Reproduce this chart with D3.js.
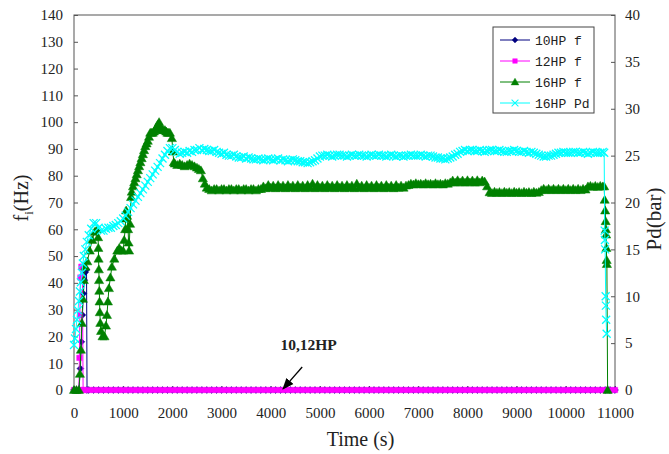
<!DOCTYPE html>
<html lang="en">
<head>
<meta charset="utf-8">
<title>Compressor frequency and discharge pressure</title>
<script src="https://cdnjs.cloudflare.com/ajax/libs/d3/7.8.5/d3.min.js"></script>
<style>
  body { margin: 0; background: #fff; }
  svg text { font-family: "Liberation Serif", serif; fill: #222; }
</style>
</head>
<body>
<div id="chart"></div>
<script>
// each series is [time (s), value]
const hp10f = [[0,0],[50,0],[100,0],[130,8],[150,18],[170,28],[190,36],[210,41],[230,44],[255,45],[265,0],
  [300,0],[400,0],[500,0],[600,0],[700,0],[800,0],[900,0],[1000,0],[1100,0],[1200,0],[1300,0],[1400,0],[1500,0],
  [1600,0],[1700,0],[1800,0],[1900,0],[2000,0],[2100,0],[2200,0],[2300,0],[2400,0],[2500,0],[2600,0],[2700,0],
  [2800,0],[2900,0],[3000,0],[3100,0],[3200,0],[3300,0],[3400,0],[3500,0],[3600,0],[3700,0],[3800,0],[3900,0],
  [4000,0],[4100,0],[4200,0],[4300,0],[4400,0],[4500,0],[4600,0],[4700,0],[4800,0],[4900,0],[5000,0],[5100,0],
  [5200,0],[5300,0],[5400,0],[5500,0],[5600,0],[5700,0],[5800,0],[5900,0],[6000,0],[6100,0],[6200,0],[6300,0],
  [6400,0],[6500,0],[6600,0],[6700,0],[6800,0],[6900,0],[7000,0],[7100,0],[7200,0],[7300,0],[7400,0],[7500,0],
  [7600,0],[7700,0],[7800,0],[7900,0],[8000,0],[8100,0],[8200,0],[8300,0],[8400,0],[8500,0],[8600,0],[8700,0],
  [8800,0],[8900,0],[9000,0],[9100,0],[9200,0],[9300,0],[9400,0],[9500,0],[9600,0],[9700,0],[9800,0],[9900,0],
  [10000,0],[10100,0],[10200,0],[10300,0],[10400,0],[10500,0],[10600,0],[10700,0],[10800,0],[10900,0],[11000,0]];

const hp12f = [[0,0],[50,0],[100,0],[110,12],[120,28],[130,42],[150,46],[170,46],[185,0],
  [200,0],[300,0],[400,0],[500,0],[600,0],[700,0],[800,0],[900,0],[1000,0],[1100,0],[1200,0],[1300,0],[1400,0],[1500,0],
  [1600,0],[1700,0],[1800,0],[1900,0],[2000,0],[2100,0],[2200,0],[2300,0],[2400,0],[2500,0],[2600,0],[2700,0],
  [2800,0],[2900,0],[3000,0],[3100,0],[3200,0],[3300,0],[3400,0],[3500,0],[3600,0],[3700,0],[3800,0],[3900,0],
  [4000,0],[4100,0],[4200,0],[4300,0],[4400,0],[4500,0],[4600,0],[4700,0],[4800,0],[4900,0],[5000,0],[5100,0],
  [5200,0],[5300,0],[5400,0],[5500,0],[5600,0],[5700,0],[5800,0],[5900,0],[6000,0],[6100,0],[6200,0],[6300,0],
  [6400,0],[6500,0],[6600,0],[6700,0],[6800,0],[6900,0],[7000,0],[7100,0],[7200,0],[7300,0],[7400,0],[7500,0],
  [7600,0],[7700,0],[7800,0],[7900,0],[8000,0],[8100,0],[8200,0],[8300,0],[8400,0],[8500,0],[8600,0],[8700,0],
  [8800,0],[8900,0],[9000,0],[9100,0],[9200,0],[9300,0],[9400,0],[9500,0],[9600,0],[9700,0],[9800,0],[9900,0],
  [10000,0],[10100,0],[10200,0],[10300,0],[10400,0],[10500,0],[10600,0],[10700,0],[10800,0],[10900,0],[11000,0]];

const hp16f = [[0,0],[50,0],[100,0],[120,6],[140,15],[160,25],[180,34],[200,41],[230,46],[270,48],[320,52],
  [370,56],[420,59],[470,60],[490,57],[495,53],[500,49],[505,45],[510,41],[515,37],[520,33],[525,29],[535,25],
  [550,22],[580,20],[620,20],[650,24],[670,28],[690,33],[710,38],[740,42],[770,46],[820,49],[880,52],[920,53],
  [960,52],[1000,52],[1020,56],[1040,60],[1050,64],[1060,67],[1080,65],[1100,60],[1110,55],[1120,52],[1140,62],
  [1160,72],[1175,74],[1200,76],[1225,77.5],[1250,79],[1275,80.5],[1300,82],[1325,83.5],[1350,85],[1375,86.5],
  [1400,88],[1425,89.5],[1450,91],[1475,92],[1500,93],[1525,94.5],[1550,96],[1575,96],[1600,96],[1625,96.5],
  [1650,97],[1675,98],[1700,99],[1730,100],[1760,98],[1780,97.5],[1800,97],[1825,97],[1850,97],[1875,96.5],
  [1900,96],[1925,96],[1950,96],[1990,94],[2010,89],[2030,85],
  [2050,84.5],[2100,84],[2150,84.5],[2200,84],[2250,83.5],[2300,84],[2350,84.5],[2400,84],[2450,83.5],[2500,83],
  [2540,82.5],[2580,82],[2620,79],[2660,77],[2700,75.5],[2750,75],[2800,74.5],[2850,75],[2900,75],[2950,74.5],
  [3000,75],[3050,75],[3100,74.5],[3150,75],[3200,75],[3250,74.5],[3300,75],[3350,75],[3400,74.5],[3450,75],
  [3500,75],[3550,74.5],[3600,75],[3650,75],[3700,74.5],[3750,75],[3800,75],
  [3850,76],[3900,75.3],[3950,76.5],[4000,75.5],[4050,76.3],[4100,75.3],[4150,76.5],[4200,75.5],[4250,76.3],
  [4300,75.3],[4350,76.5],[4400,75.5],[4450,76.3],[4500,75.3],[4550,76.5],[4600,75.5],[4650,76.3],[4700,75.3],
  [4750,76.5],[4800,75.5],[4850,77],[4900,75.3],[4950,76.5],[5000,75.5],[5050,76.3],[5100,75.3],[5150,76.5],
  [5200,75.5],[5250,76.3],[5300,75.3],[5350,76.5],[5400,75.5],[5450,76.3],[5500,75.3],[5550,76.5],[5600,75.5],
  [5650,76.3],[5700,75.3],[5750,77],[5800,75.5],[5850,76.3],[5900,75.3],[5950,76.5],[6000,75.5],[6050,76.3],
  [6100,75.3],[6150,76.5],[6200,75.5],[6250,76.3],[6300,75.3],[6350,76.5],[6400,75.5],[6450,76.3],[6500,75.3],
  [6550,76.5],[6600,75.5],[6650,76.3],[6700,75.5],[6750,76.3],[6800,76.5],
  [6850,77],[6900,76.7],[6950,77.2],[7000,76.8],[7050,77],[7100,76.7],[7150,77.2],[7200,76.8],[7250,77],
  [7300,76.7],[7350,77.2],[7400,76.8],[7450,77],[7500,76.7],[7550,77.2],[7600,77],
  [7650,77.5],[7700,78.2],[7750,77.4],[7800,78.3],[7850,77.5],[7900,78.2],[7950,77.4],[8000,78.3],[8050,77.5],
  [8100,78.2],[8150,77.4],[8200,78.3],[8250,77.5],[8300,78.2],[8350,77.8],[8400,76],
  [8450,73.8],[8500,73.5],[8550,74],[8600,73.6],[8650,73.9],[8700,73.5],[8750,74],[8800,73.6],[8850,73.9],
  [8900,73.5],[8950,74],[9000,73.6],[9050,73.9],[9100,73.5],[9150,74],[9200,73.6],[9250,73.9],[9300,73.5],
  [9350,74],[9400,73.6],[9450,73.9],
  [9500,74.6],[9550,75.1],[9600,74.6],[9650,75.1],[9700,74.6],[9750,75.1],[9800,74.6],[9850,75.1],[9900,74.6],
  [9950,75.1],[10000,74.6],[10050,75.1],[10100,74.6],[10150,75.1],[10200,74.6],[10250,75.1],[10300,74.6],
  [10350,75.1],[10400,74.8],
  [10450,76],[10500,76.2],[10550,75.8],[10600,76.2],[10650,75.8],[10700,76.2],[10750,76],[10780,76],
  [10790,71],[10800,67],[10810,63],[10815,60],[10820,58],[10825,53],[10830,48.5],[10835,47],[10850,0]];

const hp16pd = [[0,4.8],[20,5.5],[40,6.5],[60,7.5],[80,8.5],[100,9.5],[120,10.5],[140,11.5],[160,12.5],[180,13.5],
  [200,14.3],[230,15],[260,15.8],[300,16.5],[350,17.2],[400,17.8],[450,17.8],[500,17.3],[550,17],[600,17],
  [650,17.2],[700,17.3],[750,17.3],[800,17.5],[850,17.6],[900,17.8],[950,18],[1000,18.3],[1050,18.6],[1100,19],
  [1150,19.4],[1200,19.8],[1250,20.2],[1300,20.6],[1350,21],[1400,21.4],[1450,21.8],[1500,22.2],[1550,22.6],
  [1600,23],[1650,23.4],[1700,23.8],[1750,24.2],[1800,24.7],[1850,25.1],[1900,25.5],[1950,25.8],
  [2000,25.8],[2050,25.6],[2100,25.4],[2150,25.2],[2200,25.3],[2250,25.4],[2300,25.3],[2350,25.5],[2400,25.4],
  [2450,25.6],[2500,25.6],[2550,25.8],[2600,25.6],[2650,25.7],[2700,25.6],[2750,25.5],[2800,25.5],[2850,25.6],
  [2900,25.4],[2950,25.3],[3000,25.2],[3050,25.3],[3100,25.1],[3150,25],[3200,25],[3250,25.1],[3300,24.9],
  [3350,24.8],[3400,24.8],[3450,24.9],[3500,24.7],[3550,24.8],[3600,24.7],[3650,24.6],[3700,24.6],[3750,24.7],
  [3800,24.6],[3850,24.5],[3900,24.6],[3950,24.7],[4000,24.6],[4050,24.5],[4100,24.6],[4150,24.7],[4200,24.5],
  [4250,24.6],[4300,24.5],[4350,24.4],[4400,24.5],[4450,24.6],[4500,24.5],[4550,24.4],[4600,24.4],[4650,24.3],
  [4700,24.3],[4750,24.2],[4800,24.3],[4850,24.4],[4900,24.5],[4950,24.7],[5000,24.9],[5050,25],[5100,25],
  [5150,25.1],[5200,25],[5250,24.9],[5300,25],[5350,25.1],[5400,25.1],[5450,25],[5500,25],[5550,24.9],
  [5600,25],[5650,25.1],[5700,25],[5750,25],[5800,25.1],[5850,25],[5900,25],[5950,24.9],[6000,25],[6050,25.1],
  [6100,25],[6150,25],[6200,25.1],[6250,25],[6300,25],[6350,24.9],[6400,25],[6450,25.1],[6500,25],[6550,24.9],
  [6600,25],[6650,25],[6700,24.9],[6750,25],[6800,25],[6850,25.1],[6900,25],[6950,25],[7000,25],[7050,25.1],
  [7100,25],[7150,24.9],[7200,25],[7250,25],[7300,24.9],[7350,24.8],[7400,24.8],[7450,24.7],[7500,24.7],
  [7550,24.6],[7600,24.7],[7650,24.8],[7700,24.9],[7750,25.1],[7800,25.2],[7850,25.4],[7900,25.5],[7950,25.6],
  [8000,25.5],[8050,25.6],[8100,25.6],[8150,25.5],[8200,25.5],[8250,25.6],[8300,25.5],[8350,25.4],[8400,25.5],
  [8450,25.6],[8500,25.6],[8550,25.5],[8600,25.5],[8650,25.6],[8700,25.5],[8750,25.4],[8800,25.4],[8850,25.5],
  [8900,25.5],[8950,25.6],[9000,25.5],[9050,25.4],[9100,25.4],[9150,25.5],[9200,25.4],[9250,25.3],[9300,25.4],
  [9350,25.3],[9400,25.2],[9450,25.1],[9500,25],[9550,24.9],[9600,24.9],[9650,25],[9700,25],[9750,25.1],
  [9800,25.2],[9850,25.3],[9900,25.3],[9950,25.4],[10000,25.3],[10050,25.3],[10100,25.3],[10150,25.4],
  [10200,25.4],[10250,25.3],[10300,25.3],[10350,25.4],[10400,25.3],[10450,25.2],[10500,25.3],[10550,25.4],
  [10600,25.3],[10650,25.3],[10700,25.3],[10750,25.4],[10780,25.3],
  [10790,17],[10795,16],[10800,15],[10810,10],[10815,9],[10820,7.5],[10830,6]];

const timeTicks = [0,1000,2000,3000,4000,5000,6000,7000,8000,9000,10000,11000];
const freqTicks = [0,10,20,30,40,50,60,70,80,90,100,110,120,130,140];
const pdTicks = [0,5,10,15,20,25,30,35,40];
const seriesNames = ["10HP f", "12HP f", "16HP f", "16HP Pd"];
const seriesColors = ["#000080", "#ff00ff", "#008000", "#00ffff"];

const w = 669, h = 454;
const plotL = 74, plotR = 615, plotT = 15, plotB = 390;

const markers = {
  diamond: "M0,-3.4L3.4,0L0,3.4L-3.4,0Z",
  square: "M-2.7,-2.7H2.7V2.7H-2.7Z",
  triangle: "M0,-4.5L4.6,3.4H-4.6Z",
  cross: "M-4,-4L4,4M-4,4L4,-4"
};

const svg = d3.select("#chart").append("svg")
  .attr("width", w).attr("height", h)
  .style("background", "#fff");

const x = d3.scaleLinear().domain([0, 11000]).range([plotL, plotR]);
const yF = d3.scaleLinear().domain([0, 140]).range([plotB, plotT]);
const yP = d3.scaleLinear().domain([0, 40]).range([plotB, plotT]);

// axes, ticks pointing inward
const axisStyle = g => {
  g.select(".domain").remove();
  g.selectAll(".tick line").attr("stroke", "#555");
  g.selectAll(".tick text").style("font-size", "15px").attr("fill", "#1a1a1a");
};
svg.append("g").attr("transform", "translate(" + plotL + ",0)")
  .call(d3.axisLeft(yF).tickValues(freqTicks).tickFormat(d3.format("d"))
    .tickSizeInner(-4).tickSizeOuter(0).tickPadding(11))
  .call(axisStyle);
svg.append("g").attr("transform", "translate(" + plotR + ",0)")
  .call(d3.axisRight(yP).tickValues(pdTicks).tickFormat(d3.format("d"))
    .tickSizeInner(-4).tickSizeOuter(0).tickPadding(10))
  .call(axisStyle);
svg.append("g").attr("transform", "translate(0," + plotB + ")")
  .call(d3.axisBottom(x).tickValues(timeTicks).tickFormat(d3.format("d"))
    .tickSizeInner(-4).tickSizeOuter(0).tickPadding(17))
  .call(axisStyle);

svg.append("rect")
  .attr("x", plotL).attr("y", plotT)
  .attr("width", plotR - plotL).attr("height", plotB - plotT)
  .attr("fill", "none").attr("stroke", "#555").attr("stroke-width", 1);

function drawSeries(data, yScale, color, shape, filled) {
  const g = svg.append("g");
  g.append("path").datum(data)
    .attr("d", d3.line().x(d => x(d[0])).y(d => yScale(d[1])))
    .attr("fill", "none").attr("stroke", color).attr("stroke-width", 1);
  g.selectAll("path.mk").data(data).join("path")
    .attr("class", "mk")
    .attr("transform", d => "translate(" + x(d[0]) + "," + yScale(d[1]) + ")")
    .attr("d", shape)
    .attr("fill", filled ? color : "none")
    .attr("stroke", color)
    .attr("stroke-width", filled ? 0.5 : 1.3);
}

drawSeries(hp10f, yF, seriesColors[0], markers.diamond, true);
drawSeries(hp12f, yF, seriesColors[1], markers.square, true);
drawSeries(hp16f, yF, seriesColors[2], markers.triangle, true);
drawSeries(hp16pd, yP, seriesColors[3], markers.cross, false);

// axis titles
const yTitle = svg.append("text")
  .attr("transform", "translate(28,198) rotate(-90)")
  .attr("text-anchor", "middle")
  .style("font-size", "20px");
yTitle.append("tspan").text("f");
yTitle.append("tspan").text("i").attr("dy", 5).style("font-size", "13px");
yTitle.append("tspan").text("(Hz)").attr("dy", -5);

svg.append("text")
  .attr("transform", "translate(661,219) rotate(-90)")
  .attr("text-anchor", "middle")
  .style("font-size", "21px")
  .text("Pd(bar)");

svg.append("text")
  .attr("x", (plotL + plotR) / 2 + 16).attr("y", 446)
  .attr("text-anchor", "middle")
  .style("font-size", "20px")
  .text("Time (s)");

// annotation
svg.append("defs").append("marker")
  .attr("id", "arrow").attr("viewBox", "0 0 10 10")
  .attr("refX", 9).attr("refY", 5)
  .attr("markerWidth", 9).attr("markerHeight", 9)
  .attr("orient", "auto")
  .append("path").attr("d", "M0,1L10,5L0,9Z").attr("fill", "#000");

svg.append("line")
  .attr("x1", x(4640)).attr("y1", yF(8.6))
  .attr("x2", x(4250)).attr("y2", yF(0.4))
  .attr("stroke", "#000").attr("stroke-width", 1.3)
  .attr("marker-end", "url(#arrow)");

svg.append("text")
  .attr("x", x(4770)).attr("y", yF(15))
  .attr("text-anchor", "middle")
  .style("font-size", "15.5px").style("font-weight", "bold")
  .attr("fill", "#111")
  .text("10,12HP");

// legend
const legend = svg.append("g").attr("transform", "translate(493,27)");
legend.append("rect").attr("width", 101).attr("height", 86)
  .attr("fill", "#fff").attr("stroke", "#444").attr("stroke-width", 1);
const legendShapes = [markers.diamond, markers.square, markers.triangle, markers.cross];
seriesNames.forEach((name, i) => {
  const row = legend.append("g").attr("transform", "translate(0," + (13 + i * 21) + ")");
  row.append("line").attr("x1", 7).attr("x2", 37)
    .attr("stroke", seriesColors[i]).attr("stroke-width", 1);
  row.append("path").attr("transform", "translate(22,0) scale(0.85)")
    .attr("d", legendShapes[i])
    .attr("fill", i === 3 ? "none" : seriesColors[i])
    .attr("stroke", seriesColors[i]).attr("stroke-width", i === 3 ? 1.2 : 0.5);
  row.append("text").attr("x", 42).attr("dy", "0.35em")
    .style("font-family", "'Liberation Mono', monospace")
    .style("font-size", "13px")
    .text(name);
});
</script>
</body>
</html>
